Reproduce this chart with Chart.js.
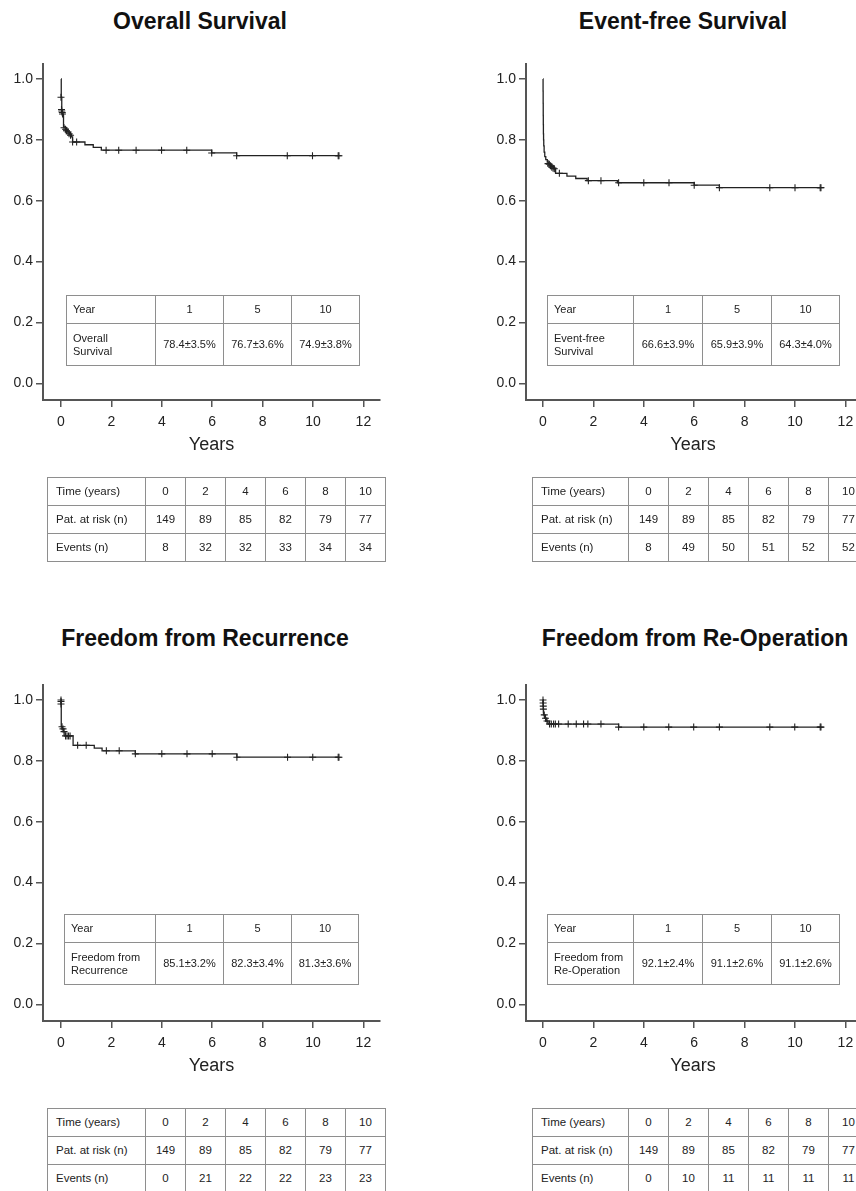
<!DOCTYPE html>
<html>
<head>
<meta charset="utf-8">
<script src="https://cdn.jsdelivr.net/npm/chart.js@4.4.1/dist/chart.umd.min.js"></script>
<style>
  body { margin: 0; background: #fff; font-family: "Liberation Sans", Arial, sans-serif; color: #1a1a1a; }
  #page { position: relative; width: 856px; height: 1191px; overflow: hidden; background: #fff; }
  .title { position: absolute; font-weight: bold; font-size: 23px; white-space: nowrap; transform: translate(-50%, -50%); color: #111; }
  canvas.km { position: absolute; }
  table { position: absolute; border-collapse: collapse; table-layout: fixed; font-size: 11px; color: #222; }
  td { border: 1px solid #8e8e8e; padding: 0; text-align: center; line-height: 13px; }
  td.lab { text-align: left; padding-left: 6px; }
  table.risk { font-size: 11.5px; }
  table.risk td.lab { padding-left: 8px; }
</style>
</head>
<body>
<div id="page"></div>
<script>
// ---- data ----

// Overall survival: step points (time in years, survival) and censored marks
const osT = [0, 0.01, 0.03, 0.06, 0.1, 0.18, 0.26, 0.34, 0.42, 0.46, 0.95, 1.28, 1.6, 5.98, 6.97, 11];
const osS = [1.0, 0.94, 0.895, 0.885, 0.843, 0.835, 0.826, 0.818, 0.81, 0.793, 0.784, 0.775, 0.766, 0.757, 0.748, 0.748];
const osCensT = [0, 0.02, 0.03, 0.05, 0.06, 0.12, 0.18, 0.22, 0.28, 0.32, 0.38, 0.46, 0.62, 1.79, 2.29, 2.98, 3.99, 4.99, 5.98, 6.97, 8.98, 9.98, 11, 11.03];
const osCensS = [0.94, 0.9, 0.895, 0.89, 0.885, 0.84, 0.835, 0.83, 0.826, 0.82, 0.815, 0.793, 0.793, 0.766, 0.766, 0.766, 0.766, 0.766, 0.757, 0.748, 0.748, 0.748, 0.748, 0.748];

// Event-free survival
const efsT = [0, 0.003, 0.006, 0.009, 0.012, 0.016, 0.022, 0.03, 0.045, 0.07, 0.11, 0.17, 0.24, 0.32, 0.42, 0.5, 0.95, 1.3, 1.75, 2.95, 6.0, 7.0, 11];
const efsS = [1.0, 0.96, 0.92, 0.88, 0.85, 0.82, 0.8, 0.78, 0.76, 0.745, 0.735, 0.727, 0.72, 0.713, 0.705, 0.69, 0.681, 0.673, 0.666, 0.659, 0.651, 0.643, 0.643];
const efsCensT = [0.2, 0.25, 0.3, 0.35, 0.4, 0.45, 0.65, 1.8, 2.3, 3, 4, 5, 6, 7, 9, 10, 11, 11.03];
const efsCensS = [0.722, 0.72, 0.715, 0.71, 0.707, 0.705, 0.69, 0.666, 0.666, 0.659, 0.659, 0.659, 0.651, 0.643, 0.643, 0.643, 0.643, 0.643];

// Freedom from recurrence
const ffrT = [0, 0.01, 0.05, 0.1, 0.16, 0.48, 1.32, 1.63, 2.95, 6.98, 11];
const ffrS = [1.0, 0.912, 0.905, 0.896, 0.882, 0.851, 0.842, 0.833, 0.823, 0.812, 0.812];
const ffrCensT = [0, 0, 0, 0.04, 0.08, 0.12, 0.18, 0.24, 0.3, 0.36, 0.66, 1.0, 1.8, 2.31, 2.95, 4.0, 5.0, 6.0, 6.98, 8.99, 9.99, 11, 11.03];
const ffrCensS = [1.0, 0.995, 0.987, 0.912, 0.905, 0.896, 0.882, 0.882, 0.882, 0.882, 0.851, 0.851, 0.833, 0.833, 0.823, 0.823, 0.823, 0.823, 0.812, 0.812, 0.812, 0.812, 0.812];

// Freedom from re-operation
const ffroT = [0, 0.005, 0.01, 0.015, 0.02, 0.07, 0.13, 0.2, 3.0, 11];
const ffroS = [1.0, 0.99, 0.98, 0.97, 0.951, 0.94, 0.931, 0.921, 0.911, 0.911];
const ffroCensT = [0, 0.005, 0.01, 0.015, 0.05, 0.1, 0.16, 0.26, 0.33, 0.42, 0.49, 0.62, 1.0, 1.32, 1.61, 1.78, 2.3, 3.0, 4.0, 4.99, 5.98, 7.0, 9.0, 9.99, 11, 11.03];
const ffroCensS = [1.0, 0.99, 0.98, 0.97, 0.951, 0.94, 0.931, 0.921, 0.921, 0.921, 0.921, 0.921, 0.921, 0.921, 0.921, 0.921, 0.921, 0.911, 0.911, 0.911, 0.911, 0.911, 0.911, 0.911, 0.911, 0.911];

// axis ticks
const xTicks = [0, 2, 4, 6, 8, 10, 12];
const yTicks = [0, 0.2, 0.4, 0.6, 0.8, 1.0];

// inset tables (estimates at 1, 5, 10 years)
const rateYears = ['1', '5', '10'];
const osRates = ['78.4±3.5%', '76.7±3.6%', '74.9±3.8%'];
const efsRates = ['66.6±3.9%', '65.9±3.9%', '64.3±4.0%'];
const ffrRates = ['85.1±3.2%', '82.3±3.4%', '81.3±3.6%'];
const ffroRates = ['92.1±2.4%', '91.1±2.6%', '91.1±2.6%'];

// numbers at risk tables
const riskTimes = [0, 2, 4, 6, 8, 10];
const atRisk = [149, 89, 85, 82, 79, 77];
const osEvents = [8, 32, 32, 33, 34, 34];
const efsEvents = [8, 49, 50, 51, 52, 52];
const ffrEvents = [0, 21, 22, 22, 23, 23];
const ffroEvents = [0, 10, 11, 11, 11, 11];

// ---- layout ----
const PX_PER_YEAR = 25.2;

// right-hand panels run past the page edge (page clips them, as in the original)
const panels = [
  {
    title: 'Overall Survival', titleX: 200, titleY: 21,
    left: 0, top: 40, width: 430, axisX: 43, zeroX: 61, rightX: 380,
    t: osT, s: osS, ct: osCensT, cs: osCensS,
    label: 'Overall<br>Survival', rates: osRates,
    inset: { left: 66, top: 295, cols: [89, 68, 68, 68], rows: [28, 42] },
    events: osEvents, risk: { left: 47, top: 477, cols: [98, 40, 40, 40, 40, 40, 40] }
  },
  {
    title: 'Event-free Survival', titleX: 683, titleY: 21,
    left: 430, top: 40, width: 456, axisX: 526, zeroX: 543, rightX: 860,
    t: efsT, s: efsS, ct: efsCensT, cs: efsCensS,
    label: 'Event-free<br>Survival', rates: efsRates,
    inset: { left: 547, top: 295, cols: [86, 69, 69, 68], rows: [28, 42] },
    events: efsEvents, risk: { left: 532, top: 477, cols: [96, 40, 40, 40, 40, 40, 40] }
  },
  {
    title: 'Freedom from Recurrence', titleX: 205, titleY: 638,
    left: 0, top: 661, width: 430, axisX: 43, zeroX: 61, rightX: 380,
    t: ffrT, s: ffrS, ct: ffrCensT, cs: ffrCensS,
    label: 'Freedom from<br>Recurrence', rates: ffrRates,
    inset: { left: 64, top: 914, cols: [91, 68, 68, 67], rows: [28, 42] },
    events: ffrEvents, risk: { left: 47, top: 1108, cols: [98, 40, 40, 40, 40, 40, 40] }
  },
  {
    title: 'Freedom from Re-Operation', titleX: 695, titleY: 638,
    left: 430, top: 661, width: 456, axisX: 526, zeroX: 543, rightX: 860,
    t: ffroT, s: ffroS, ct: ffroCensT, cs: ffroCensS,
    label: 'Freedom from<br>Re-Operation', rates: ffroRates,
    inset: { left: 547, top: 914, cols: [86, 69, 69, 68], rows: [28, 42] },
    events: ffroEvents, risk: { left: 532, top: 1108, cols: [96, 40, 40, 40, 40, 40, 40] }
  }
];

Chart.defaults.font.family = '"Liberation Sans", Arial, sans-serif';
Chart.defaults.color = '#222';

const page = document.getElementById('page');

function colgroup(cols) {
  return '<colgroup>' + cols.map(w => `<col style="width:${w}px">`).join('') + '</colgroup>';
}

function buildInset(p) {
  const g = p.inset;
  const tbl = document.createElement('table');
  tbl.style.left = g.left + 'px';
  tbl.style.top = g.top + 'px';
  tbl.style.width = g.cols.reduce((a, b) => a + b, 0) + 'px';
  tbl.innerHTML = colgroup(g.cols) +
    `<tr style="height:${g.rows[0]}px"><td class="lab">Year</td>` +
    rateYears.map(y => `<td>${y}</td>`).join('') + '</tr>' +
    `<tr style="height:${g.rows[1]}px"><td class="lab">${p.label}</td>` +
    p.rates.map(r => `<td>${r}</td>`).join('') + '</tr>';
  page.appendChild(tbl);
}

function buildRisk(p) {
  const g = p.risk;
  const tbl = document.createElement('table');
  tbl.className = 'risk';
  tbl.style.left = g.left + 'px';
  tbl.style.top = g.top + 'px';
  tbl.style.width = g.cols.reduce((a, b) => a + b, 0) + 'px';
  const row = (label, vals) =>
    `<tr style="height:28px"><td class="lab">${label}</td>` + vals.map(v => `<td>${v}</td>`).join('') + '</tr>';
  tbl.innerHTML = colgroup(g.cols) +
    row('Time (years)', riskTimes) +
    row('Pat. at risk (n)', atRisk) +
    row('Events (n)', p.events);
  page.appendChild(tbl);
}

function buildChart(p) {
  const title = document.createElement('div');
  title.className = 'title';
  title.textContent = p.title;
  title.style.left = p.titleX + 'px';
  title.style.top = p.titleY + 'px';
  page.appendChild(title);

  const canvas = document.createElement('canvas');
  canvas.className = 'km';
  canvas.width = p.width;
  canvas.height = 440;
  canvas.style.left = p.left + 'px';
  canvas.style.top = p.top + 'px';
  page.appendChild(canvas);

  const yAxisWidth = p.axisX - p.left;
  const xMin = -(p.zeroX - p.axisX) / PX_PER_YEAR;
  const xMax = (p.rightX - p.zeroX) / PX_PER_YEAR;

  new Chart(canvas, {
    type: 'line',
    data: {
      datasets: [{
        data: p.t.map((t, i) => ({ x: t, y: p.s[i] })),
        stepped: 'before',
        borderColor: '#222',
        borderWidth: 1.3,
        pointRadius: 0,
        fill: false
      }, {
        data: p.ct.map((t, i) => ({ x: t, y: p.cs[i] })),
        showLine: false,
        pointStyle: 'cross',
        pointRadius: 3.5,
        pointBorderWidth: 1.1,
        pointBorderColor: '#222',
        pointBackgroundColor: '#222'
      }]
    },
    options: {
      responsive: false,
      animation: false,
      events: [],
      layout: { padding: { top: 23.8, right: p.left + p.width - p.rightX, left: 0, bottom: 0 } },
      plugins: { legend: { display: false }, tooltip: { enabled: false } },
      scales: {
        x: {
          type: 'linear',
          min: xMin,
          max: xMax,
          afterBuildTicks: s => { s.ticks = xTicks.map(v => ({ value: v })); },
          afterFit: s => { s.height = 80; s.paddingLeft = 0; s.paddingRight = 0; },
          ticks: { font: { size: 14 }, color: '#222', padding: 7, maxRotation: 0, autoSkip: false },
          grid: { drawOnChartArea: false, drawTicks: true, tickLength: 7, color: '#555', lineWidth: 1.5 },
          border: { display: true, color: '#555', width: 2 },
          title: { display: true, text: 'Years', font: { size: 18 }, color: '#222', padding: { top: 0, bottom: 24 } }
        },
        y: {
          min: -0.055,
          max: 1.05,
          afterBuildTicks: s => { s.ticks = yTicks.map(v => ({ value: v })); },
          afterFit: s => { s.width = yAxisWidth; s.paddingTop = 0; s.paddingBottom = 0; },
          ticks: { font: { size: 14 }, color: '#222', padding: 3, callback: v => v.toFixed(1) },
          grid: { drawOnChartArea: false, drawTicks: true, tickLength: 7, color: '#555', lineWidth: 1.5 },
          border: { display: true, color: '#555', width: 2 }
        }
      }
    }
  });
}

panels.forEach(p => {
  buildChart(p);
  buildInset(p);
  buildRisk(p);
});
</script>
</body>
</html>
